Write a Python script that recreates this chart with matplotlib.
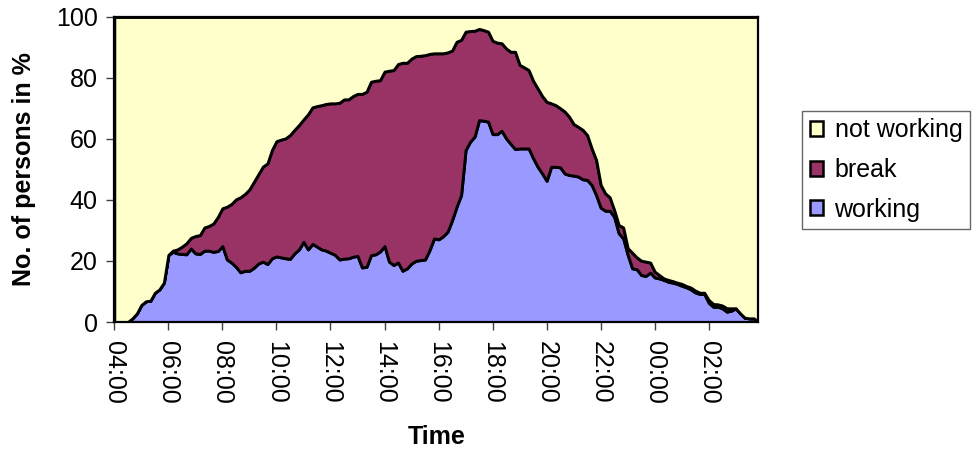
import numpy as np
import matplotlib
matplotlib.use('Agg')
import matplotlib.pyplot as plt
from matplotlib.patches import Patch

plt.rcParams['font.family'] = ['Liberation Sans', 'DejaVu Sans']

# 10-minute samples starting at 04:00 (144 values, last one at 03:50)
working = [
    0, 0, 0, 0, 1.2, 2.8, 5.6, 6.8, 7.0, 9.6, 10.7, 12.9,
    22.0, 23.0, 22.5, 22.3, 22.2, 24.1, 22.5, 22.3, 23.4, 23.4, 23.0, 23.3,
    24.9, 20.5, 19.5, 18.1, 16.3, 16.8, 16.8, 17.8, 19.2, 19.8, 19.0, 20.9,
    21.5, 21.2, 20.9, 20.7, 22.5, 23.8, 26.3, 23.8, 25.6, 24.7, 23.8, 23.4,
    22.7, 22.0, 20.5, 20.8, 20.9, 21.4, 21.7, 17.9, 18.1, 21.9, 22.2, 23.1,
    24.9, 19.8, 18.7, 19.5, 16.8, 17.6, 19.2, 20.1, 20.3, 20.5, 23.6, 27.4,
    27.1, 28.1, 29.6, 33.4, 37.8, 41.6, 56.4, 59.1, 60.8, 66.2, 66.0, 65.7,
    61.6, 61.6, 62.7, 60.2, 58.4, 56.7, 56.9, 56.9, 56.9, 53.7, 50.9, 48.7,
    46.3, 50.9, 50.9, 50.7, 48.7, 48.2, 48.0, 47.7, 46.8, 46.6, 44.9, 41.6,
    37.5, 36.5, 36.5, 34.5, 29.1, 27.4, 22.0, 17.6, 17.3, 15.4, 15.1, 16.2,
    14.6, 14.3, 13.8, 13.2, 12.9, 12.5, 11.9, 11.4, 10.7, 9.7, 9.2, 9.2,
    6.3, 5.0, 5.0, 4.5, 3.4, 3.7, 4.5, 2.8, 1.4, 1.2, 1.2, 0.1,
]
on_break = [
    0, 0, 0, 0, 0, 0, 0, 0, 0, 0, 0, 0,
    0, 0.4, 1.3, 2.4, 3.6, 3.5, 5.7, 6.2, 7.6, 8.1, 9.3, 11.2,
    12.4, 17.3, 19.2, 22.1, 24.6, 25.2, 26.7, 28.2, 29.3, 31.2, 33.0, 35.5,
    37.8, 38.6, 39.3, 40.6, 40.5, 40.8, 40.1, 44.3, 44.8, 46.1, 47.3, 48.1,
    49.0, 49.7, 51.4, 52.2, 52.1, 52.7, 53.1, 56.9, 57.4, 56.9, 56.9, 56.2,
    57.2, 62.6, 63.9, 65.1, 68.2, 67.4, 67.2, 67.1, 67.0, 67.0, 64.3, 60.7,
    61.0, 60.0, 58.8, 55.6, 54.1, 50.9, 38.8, 36.3, 34.7, 29.9, 29.7, 29.5,
    30.6, 30.0, 28.7, 29.5, 30.2, 31.9, 27.4, 26.6, 25.7, 25.4, 25.7, 25.4,
    25.9, 20.8, 20.2, 19.4, 20.3, 19.1, 16.9, 16.3, 16.2, 14.7, 12.0, 11.5,
    7.5, 5.7, 4.4, 2.2, 2.7, 3.6, 2.2, 5.1, 3.9, 4.7, 4.7, 3.3,
    1.9, 1.1, 0.5, 0.6, 0.5, 0.4, 0.6, 0.4, 0.6, 0.6, 0.4, 0.4,
    0.9, 0.9, 0.8, 0.9, 1.1, 0.8, 0, 0, 0, 0, 0, 0,
]
tick_labels = ['04:00', '06:00', '08:00', '10:00', '12:00', '14:00',
               '16:00', '18:00', '20:00', '22:00', '00:00', '02:00']
series_names = ['working', 'break', 'not working']
colors = ['#9999FF', '#993366', '#FFFFCC']

working = np.array(working)
on_break = np.array(on_break)
not_working = 100 - working - on_break
hours = np.arange(len(working)) * 10 / 60.0

fig = plt.figure(figsize=(9.72, 4.5), dpi=100)
ax = fig.add_axes([114.3 / 972, 1 - 322 / 450, 644 / 972, 305 / 450])

polys = ax.stackplot(hours, working, on_break, not_working, colors=colors,
                     edgecolor='black', linewidth=2.1)
for p in polys:
    p.set_joinstyle('round')

ax.set_xlim(0, hours[-1])
ax.set_ylim(0, 100)
ax.set_xticks(np.arange(0, 24, 2))
ax.set_xticklabels(tick_labels, rotation=-90)
ax.set_yticks(np.arange(0, 101, 20))
ax.tick_params(axis='both', direction='out', length=6, width=1,
               color='#404040', labelsize=18, pad=6)
ax.tick_params(axis='x', pad=8)
for sp in ax.spines.values():
    sp.set_linewidth(1.6)
    sp.set_color('black')

ax.set_ylabel('No. of persons in %', fontsize=18, fontweight='bold')
ax.yaxis.set_label_coords((36 - 114.3) / 644, 0.5)
ax.set_xlabel('Time', fontsize=18, fontweight='bold')
ax.xaxis.set_label_coords(0.5, (322 - 425) / 305)

handles = [Patch(facecolor=c, edgecolor='black', linewidth=1.8) for c in colors]
leg = fig.legend(handles[::-1], series_names[::-1], loc='upper left',
                 bbox_to_anchor=(802 / 972, 1 - 111 / 450), fontsize=18,
                 frameon=True, fancybox=False, borderpad=0.3,
                 handlelength=0.55, handleheight=0.55, handletextpad=0.45,
                 labelspacing=0.62, borderaxespad=0)
leg.get_frame().set_edgecolor('#404040')
leg.get_frame().set_linewidth(1)

fig.savefig('out.png', dpi=100)
